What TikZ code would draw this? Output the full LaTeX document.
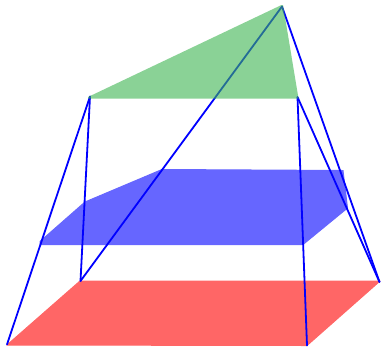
\documentclass[tikz,border=0pt]{standalone}
\definecolor{facered}{RGB}{255,102,102}
\definecolor{faceblue}{RGB}{102,102,255}
\definecolor{facegreen}{RGB}{60,180,80}
\tikzset{
  edgeline/.style={draw={rgb,255:red,0;green,0;blue,255}, line width=1.8pt, line cap=round},
  face/.style={line join=round, line width=1pt},
}
\begin{document}
\begin{tikzpicture}[x=1pt,y=-1pt]
\useasboundingbox (0,0) rectangle (385,349);
% vertices of the lower face
\coordinate (a1) at (7,344.5);
\coordinate (a2) at (80.5,281);
\coordinate (a3) at (379.5,282);
\coordinate (a4) at (307,345.5);
% vertices of the upper face
\coordinate (b1) at (90,96.5);
\coordinate (b2) at (282,6.5);
\coordinate (b3) at (297.5,97);
% faces
\filldraw[facered,face] (7,345) -- (80,281) -- (380,281) -- (307,345.5) -- cycle;
\filldraw[faceblue,face] (40,241.5) -- (85,202) -- (162,169.5) -- (343,170.5) -- (347.5,208) -- (303,244.5) -- (40,244.5) -- cycle;
% edges
\draw[edgeline] (b1) -- (a1);
\draw[edgeline] (b1) -- (a2);
\draw[edgeline] (b2) -- (a2);
\draw[edgeline] (b2) -- (a3);
\draw[edgeline] (b3) -- (a3);
\draw[edgeline] (b3) -- (a4);
% top face, translucent, over the edges
\fill[facegreen,fill opacity=0.6] (88,97) -- (281.5,5) -- (283,5) -- (298.5,98.5) -- (88.5,98.5) -- cycle;
\end{tikzpicture}
\end{document}
